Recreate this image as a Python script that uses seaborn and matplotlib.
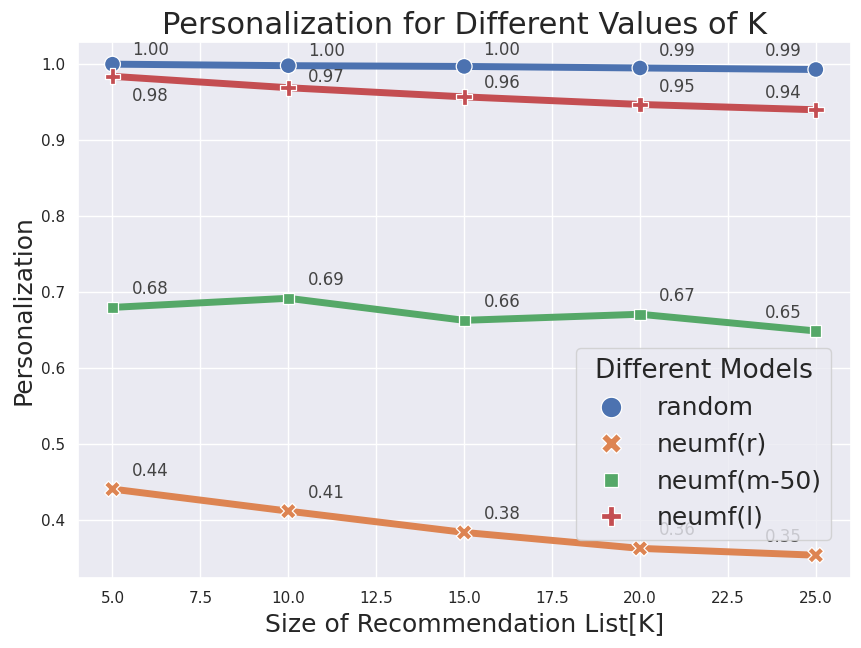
import matplotlib
matplotlib.use('Agg')
import matplotlib.pyplot as plt
import seaborn as sns
import pandas as pd

k_values = [5, 10, 15, 20, 25]
models = ['random', 'neumf(r)', 'neumf(m-50)', 'neumf(l)']
random_vals = [1.000, 0.998, 0.997, 0.995, 0.993]
neumf_r_vals = [0.441, 0.412, 0.384, 0.363, 0.354]
neumf_m50_vals = [0.680, 0.692, 0.663, 0.671, 0.649]
neumf_l_vals = [0.984, 0.969, 0.957, 0.947, 0.940]

# label offsets per point (dx, dy) in data units
label_dx = [0.55, 0.55, 0.55, 0.55, -1.45]
label_dy = {
    'random': [0.012, 0.013, 0.015, 0.016, 0.018],
    'neumf(r)': [0.017] * 5,
    'neumf(m-50)': [0.017] * 5,
    'neumf(l)': [-0.032, 0.007, 0.012, 0.017, 0.016],
}

series = [random_vals, neumf_r_vals, neumf_m50_vals, neumf_l_vals]
rows = []
for name, vals in zip(models, series):
    for k, v in zip(k_values, vals):
        rows.append({'K': k, 'Personalization': v, 'Different Models': name})
df = pd.DataFrame(rows)

sns.set_theme(style='darkgrid')
fig, ax = plt.subplots(figsize=(8.61, 6.48), dpi=100)
fig.subplots_adjust(left=0.091, right=0.988, top=0.935, bottom=0.108)

sns.lineplot(data=df, x='K', y='Personalization', hue='Different Models',
             linewidth=5, legend=False, ax=ax)
sns.scatterplot(data=df, x='K', y='Personalization', hue='Different Models',
                style='Different Models', s=130, ax=ax, zorder=5)

for name, vals in zip(models, series):
    for i, (k, v) in enumerate(zip(k_values, vals)):
        ax.text(k + label_dx[i], v + label_dy[name][i], f'{v:.2f}',
                fontsize=12, color='#444444')

ax.set_title('Personalization for Different Values of K', fontsize=22)
ax.set_xlabel('Size of Recommendation List[K]', fontsize=18)
ax.set_ylabel('Personalization', fontsize=18)
ax.tick_params(labelsize=11)
ax.set_xlim(4.03, 25.99)
ax.set_ylim(0.324, 1.029)

ax.legend(title='Different Models', fontsize=18, title_fontsize=19,
          markerscale=1.3, loc='lower right', bbox_to_anchor=(0.975, 0.071),
          borderaxespad=0)

fig.savefig('out.png', dpi=100)
